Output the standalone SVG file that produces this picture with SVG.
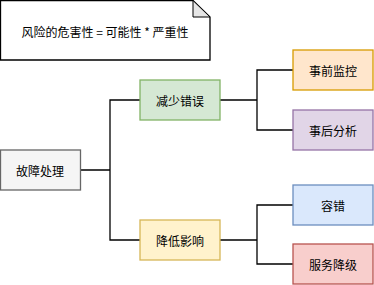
<svg xmlns="http://www.w3.org/2000/svg" width="374" height="285" viewBox="0 0 374 285">
<style>
text{font-family:"Noto Sans CJK SC","Noto Sans",sans-serif;font-size:12px;fill:#000;text-anchor:middle;dominant-baseline:central}
.c{fill:none;stroke:#000;stroke-width:1.3}
rect{stroke-width:1.3}
</style>
<rect width="374" height="285" fill="#fff"/>
<g id="note">
<path d="M0.5,0.5 H193 L210,17 V60 H0.5 Z" fill="#fff" stroke="#000" stroke-width="1.3"/>
<path d="M193,0.5 V17 H210 Z" fill="#e6e6e6" stroke="#000" stroke-width="1"/>
<text x="105" y="31">风险的危害性 = 可能性 * 严重性</text>
</g>
<g id="connectors">
<path class="c" d="M80,170 H110 V100 H140 M110,170 V240 H140"/>
<path class="c" d="M220,100 H257 V70 H293 M257,100 V130 H293"/>
<path class="c" d="M220,240 H257 V205 H293 M257,240 V264 H293"/>
</g>
<g id="root"><rect x="0.5" y="150" width="80" height="40" fill="#f5f5f5" stroke="#666666"/><text x="40" y="170">故障处理</text></g>
<g id="reduce"><rect x="140" y="80" width="80" height="40" fill="#d5e8d4" stroke="#82b366"/><text x="180" y="100">减少错误</text></g>
<g id="lower"><rect x="140" y="220" width="80" height="40" fill="#fff2cc" stroke="#d6b656"/><text x="180" y="240">降低影响</text></g>
<g id="monitor"><rect x="293" y="50" width="80" height="40" fill="#ffe6cc" stroke="#d79b00"/><text x="333" y="70">事前监控</text></g>
<g id="analysis"><rect x="293" y="110" width="80" height="40" fill="#e1d5e7" stroke="#9673a6"/><text x="333" y="130">事后分析</text></g>
<g id="tolerance"><rect x="293" y="185" width="80" height="40" fill="#dae8fc" stroke="#6c8ebf"/><text x="333" y="205">容错</text></g>
<g id="degrade"><rect x="293" y="244" width="80" height="40" fill="#f8cecc" stroke="#b85450"/><text x="333" y="264">服务降级</text></g>
</svg>
